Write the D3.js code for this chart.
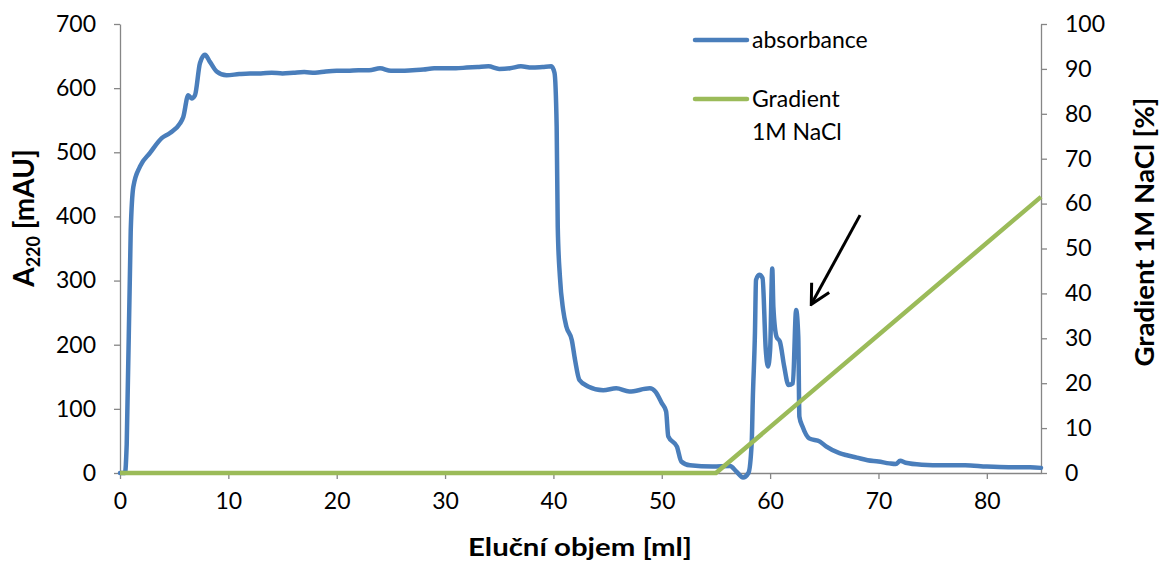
<!DOCTYPE html>
<html><head><meta charset="utf-8">
<script src="https://cdn.jsdelivr.net/npm/d3@7"></script>
<style>body{margin:0;background:#fff}svg{display:block}text{font-family:Lato,"Open Sans",sans-serif;fill:#000}</style>
</head><body><svg id="c" width="1164" height="564"></svg>
<script>
// elution volume (ml) for absorbance trace
const absVolume = [0,0.46,0.62,0.99,1.23,1.85,2.77,3.85,4.61,5.54,5.84,6.30,6.61,6.92,7.38,7.84,8.30,8.92,9.84,11,12,13,14,15,16,17,18,19,20,21,22,23,24,25,26,27,28,29,30,31,32,33,34,35,36,37,38,39,39.8,40.1,40.3,40.4,40.6,40.9,41.2,41.7,42.0,42.4,43.2,44.6,45.8,47.0,48.9,49.4,50.0,50.4,50.6,51.4,51.8,52.6,54.7,56.3,56.9,57.5,58.0,58.3,58.4,58.6,58.7,59.0,59.3,59.6,59.8,60.0,60.2,60.3,60.6,60.9,61.3,61.7,62.1,62.4,62.6,62.7,63.0,63.6,64.6,65.2,66.4,67,68,69,70,71,71.6,72,72.5,74,76,78,80,82,84,85];
// absorbance A220 (mAU)
const absValue = [0,0,45,378,446,478,499,522,530,545,555,589,584,589,639,652,641,626,620,622,623,623,624,623,624,625,624,626,627,627,628,628,631,627,627,628,629,631,631,631,632,633,634,630,631,634,632,633,634,624,540,384,306,254,228,207,176,145,135,129,132,127,132,127,109,96,57,41,18,12,10,11,2,-7,0,47,114,218,301,309,304,192,166,192,319,259,212,205,166,137,140,254,212,88,72,54,49,41,31,28,24,20,18,15,14,19,16,13,12,12,10,9,9,8];
// gradient 1M NaCl (%)
const gradVolume = [0,55,85];
const gradValue = [0,0,61.5];
const xTicks = [0,10,20,30,40,50,60,70,80];
const yLeftTicks = [0,100,200,300,400,500,600,700];
const yRightTicks = [0,10,20,30,40,50,60,70,80,90,100];
// arrow annotation (data coords: [volume, absorbance])
const arrowFrom = [68.3,402];
const arrowTo = [63.8,263];

const svg = d3.select("#c");
const L=120, R=1041, T=24, B=473;
const x = d3.scaleLinear().domain([0,85]).range([L,R]);
const yL = d3.scaleLinear().domain([0,700]).range([B,T]);
const yR = d3.scaleLinear().domain([0,100]).range([B,T]);
const axisColor = "#868686";

function styleAxis(g){
  g.select(".domain").attr("stroke",axisColor).attr("stroke-width",1.3);
  g.selectAll(".tick line").attr("stroke",axisColor).attr("stroke-width",1.3);
  g.selectAll(".tick text").style("font-size","23px").attr("fill","#000");
}
svg.append("g").attr("transform",`translate(0,${B})`)
  .call(d3.axisBottom(x).tickValues(xTicks).tickSize(6).tickSizeOuter(0).tickPadding(14))
  .call(styleAxis);
svg.append("g").attr("transform",`translate(${L},0)`)
  .call(d3.axisLeft(yL).tickValues(yLeftTicks).tickSize(6).tickSizeOuter(0).tickPadding(18))
  .call(styleAxis);
svg.append("g").attr("transform",`translate(${R},0)`)
  .call(d3.axisRight(yR).tickValues(yRightTicks).tickSize(6).tickSizeOuter(0).tickPadding(18))
  .call(styleAxis);

const absData = absVolume.map((v,i)=>[v,absValue[i]]);
const gradData = gradVolume.map((v,i)=>[v,gradValue[i]]);
svg.append("path").datum(absData)
  .attr("d", d3.line().curve(d3.curveMonotoneX).x(d=>x(d[0])).y(d=>yL(d[1])))
  .attr("fill","none").attr("stroke","#4a7ebb").attr("stroke-width",4.5)
  .attr("stroke-linejoin","round").attr("stroke-linecap","round");
svg.append("path").datum(gradData)
  .attr("d", d3.line().x(d=>x(d[0])).y(d=>yR(d[1])))
  .attr("fill","none").attr("stroke","#9bbb59").attr("stroke-width",4.5)
  .attr("stroke-linejoin","round");

// arrow
const defs = svg.append("defs");
defs.append("marker").attr("id","ah").attr("viewBox","-22 -12 24 24").attr("refX",0).attr("refY",0)
  .attr("markerUnits","userSpaceOnUse").attr("markerWidth",24).attr("markerHeight",24).attr("orient","auto")
  .append("path").attr("d","M-19,-10 L0,0 L-19,10").attr("fill","none").attr("stroke","#000")
  .attr("stroke-width",3).attr("stroke-linejoin","miter");
svg.append("line")
  .attr("x1",x(arrowFrom[0])).attr("y1",yL(arrowFrom[1]))
  .attr("x2",x(arrowTo[0])).attr("y2",yL(arrowTo[1]))
  .attr("stroke","#000").attr("stroke-width",3).attr("marker-end","url(#ah)");

// legend
const lg = svg.append("g");
lg.append("line").attr("x1",695).attr("x2",747).attr("y1",40).attr("y2",40)
  .attr("stroke","#4a7ebb").attr("stroke-width",4.5).attr("stroke-linecap","round");
lg.append("text").attr("x",752).attr("y",48).style("font-size","23px").text("absorbance");
lg.append("line").attr("x1",695).attr("x2",747).attr("y1",99).attr("y2",99)
  .attr("stroke","#9bbb59").attr("stroke-width",4.5).attr("stroke-linecap","round");
lg.append("text").attr("x",752).attr("y",107).style("font-size","23px").text("Gradient");
lg.append("text").attr("x",752).attr("y",140).style("font-size","23px").text("1M NaCl");

// axis titles
svg.append("text").attr("x",580).attr("y",556).attr("text-anchor","middle")
  .attr("textLength",224).attr("lengthAdjust","spacingAndGlyphs")
  .style("font-size","25px").style("font-weight","bold").text("Eluční objem [ml]");
const lt = svg.append("text").attr("transform","translate(34,218) rotate(-90)").attr("text-anchor","middle")
  .style("font-size","28px").style("font-weight","bold");
lt.append("tspan").text("A");
lt.append("tspan").attr("dy",6).style("font-size","18px").text("220");
lt.append("tspan").attr("dy",-6).text(" [mAU]");
svg.append("text").attr("transform","translate(1154,232) rotate(-90)").attr("text-anchor","middle")
  .attr("textLength",269).attr("lengthAdjust","spacingAndGlyphs")
  .style("font-size","27px").style("font-weight","bold").text("Gradient 1M NaCl [%]");
</script></body></html>
